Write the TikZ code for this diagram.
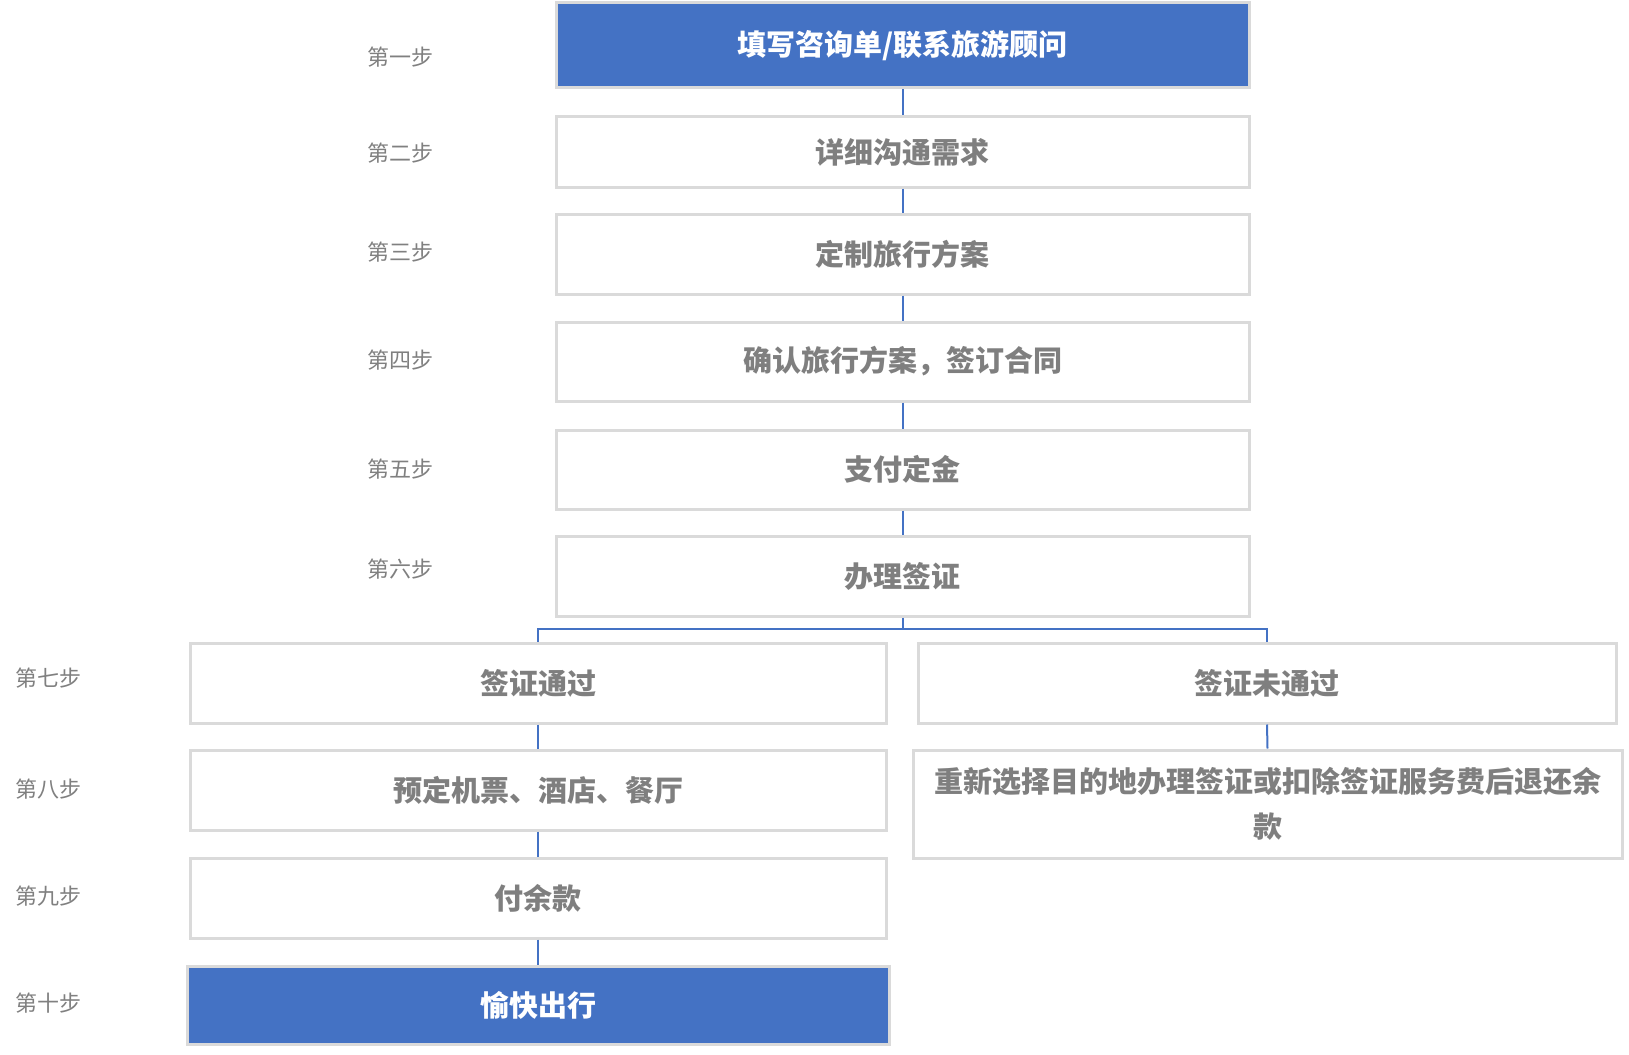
\documentclass[tikz,border=0pt]{standalone}
\usepackage{fontspec}
\newfontfamily\cjk{Noto Sans CJK SC}
\definecolor{bblue}{HTML}{4472C4}
\definecolor{bord}{HTML}{DADADA}
\definecolor{tgray}{HTML}{7F7F7F}
\definecolor{lgray}{HTML}{808080}
\tikzset{
  stepbox/.style={draw=bord, line width=3pt, fill=white, inner sep=0pt, minimum height=80pt, align=center,
    font=\cjk\bfseries\fontsize{29}{45}\selectfont, text=tgray},
  bluebox/.style={stepbox, fill=bblue, text=white},
  steplabel/.style={font=\cjk\fontsize{22}{26}\selectfont, text=lgray, inner sep=0pt},
  conn/.style={draw=bblue, line width=2pt}
}
\begin{document}
\begin{tikzpicture}[x=1pt,y=-1pt]
\useasboundingbox (0,0) rectangle (1629,1054);
\node[bluebox, minimum width=693pt, minimum height=85pt] (b1) at (902.5,45.5) {填写咨询单/联系旅游顾问};
\node[stepbox, minimum width=693pt, minimum height=70pt] (b2) at (902.5,152) {详细沟通需求};
\node[stepbox, minimum width=693pt] (b3) at (902.5,254) {定制旅行方案};
\node[stepbox, minimum width=693pt, minimum height=79pt] (b4) at (902.5,361.5) {确认旅行方案，签订合同};
\node[stepbox, minimum width=693pt, minimum height=79pt] (b5) at (902.5,469.5) {支付定金};
\node[stepbox, minimum width=693pt] (b6) at (902.5,576) {办理签证};
\node[stepbox, minimum width=696pt] (b7l) at (538,683) {签证通过};
\node[stepbox, minimum width=698pt] (b7r) at (1267,683) {签证未通过};
\node[stepbox, minimum width=696pt] (b8l) at (538,790) {预定机票、酒店、餐厅};
\node[stepbox, minimum width=709pt, minimum height=108pt] (b8r) at (1267.5,804) {重新选择目的地办理签证或扣除签证服务费后退还余\\款};
\node[stepbox, minimum width=696pt] (b9) at (538,898) {付余款};
\node[bluebox, minimum width=702pt, minimum height=78pt] (b10) at (538,1005) {愉快出行};

\node[steplabel] (l1) at (400,57) {第一步};
\node[steplabel] (l2) at (400,153) {第二步};
\node[steplabel] (l3) at (400,252) {第三步};
\node[steplabel] (l4) at (400,360) {第四步};
\node[steplabel] (l5) at (400,469) {第五步};
\node[steplabel] (l6) at (400,569) {第六步};
\node[steplabel] (l7) at (49,678) {第七步};
\node[steplabel] (l8) at (49,789) {第八步};
\node[steplabel] (l9) at (49,896) {第九步};
\node[steplabel] (l10) at (49,1003) {第十步};

\draw[conn] (b1.south) -- (b2.north);
\draw[conn] (b2.south) -- (b3.north);
\draw[conn] (b3.south) -- (b4.north);
\draw[conn] (b4.south) -- (b5.north);
\draw[conn] (b5.south) -- (b6.north);
\coordinate (br) at (902.5,629);
\draw[conn] (b6.south) -- (br);
\draw[conn] (br) -| (b7l.north);
\draw[conn] (br) -| (b7r.north);
\draw[conn] (b7l.south) -- (b8l.north);
\draw[conn] (b8l.south) -- (b9.north);
\draw[conn] (b9.south) -- (b10.north);
\draw[conn] (b7r.south) -- (b8r.north);
\end{tikzpicture}
\end{document}
